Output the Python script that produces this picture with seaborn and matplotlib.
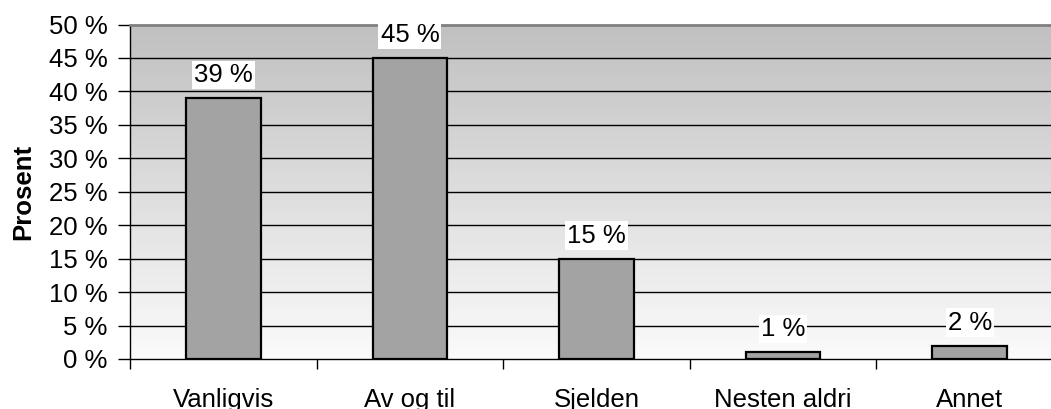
import numpy as np
import matplotlib
matplotlib.use('Agg')
import matplotlib.pyplot as plt
import seaborn as sns

# data
kategorier = ['Vanligvis', 'Av og til', 'Sjelden', 'Nesten aldri', 'Annet']
prosent = [39, 45, 15, 1, 2]
yticks = list(range(0, 51, 5))
ytick_labels = [f'{v} %' for v in yticks]

sns.set_theme(style='white')
plt.rcParams['font.family'] = ['Liberation Sans', 'DejaVu Sans']
plt.rcParams['text.color'] = 'black'
plt.rcParams['xtick.color'] = 'black'
plt.rcParams['ytick.color'] = 'black'
plt.rcParams['axes.labelcolor'] = 'black'

fig = plt.figure(figsize=(10.51, 4.09), dpi=100)
ax = fig.add_axes([130 / 1051, 50 / 409, (1063 - 130) / 1051, (359 - 24.5) / 409])

# grey gradient background (dark top -> light bottom)
grad = np.linspace(0, 1, 256).reshape(-1, 1)
cmap = matplotlib.colors.LinearSegmentedColormap.from_list('bg', ['#c0c0c0', '#fbfbfb'])
ax.imshow(grad, cmap=cmap, aspect='auto', extent=[-0.5, 4.5, 0, 50], origin='upper', zorder=0)

for v in yticks[1:-1]:
    ax.axhline(v, color='black', lw=1.0, zorder=1)

sns.barplot(x=kategorier, y=prosent, color='#a3a3a3', edgecolor='black',
            linewidth=1.6, width=0.4, saturation=1, ax=ax, zorder=3)

ax.set_xlim(-0.5, 4.5)
ax.set_ylim(0, 50)

ax.bar_label(ax.containers[0], labels=[f'{v} %' for v in prosent], padding=8,
             fontsize=18.5, zorder=5,
             bbox=dict(facecolor='white', edgecolor='none', pad=1.5))

ax.set_yticks(yticks)
ax.set_yticklabels(ytick_labels)
ax.set_xticks(np.arange(-0.5, 5, 1), minor=True)
ax.tick_params(axis='x', which='major', length=0, pad=21, labelsize=18.5)
ax.tick_params(axis='x', which='minor', length=7, width=1, color='black', direction='out', bottom=True)
ax.tick_params(axis='y', length=9, width=1, color='black', direction='out', pad=7, labelsize=18.5, left=True)

ax.set_ylabel('Prosent', fontsize=18.5, fontweight='bold', labelpad=10)
ax.set_xlabel('')

ax.spines['right'].set_visible(False)
ax.spines['left'].set_color('black')
ax.spines['left'].set_linewidth(1)
ax.spines['bottom'].set_color('black')
ax.spines['bottom'].set_linewidth(1)
ax.spines['top'].set_color('#808080')
ax.spines['top'].set_linewidth(2)

fig.savefig('out.png', dpi=100)
